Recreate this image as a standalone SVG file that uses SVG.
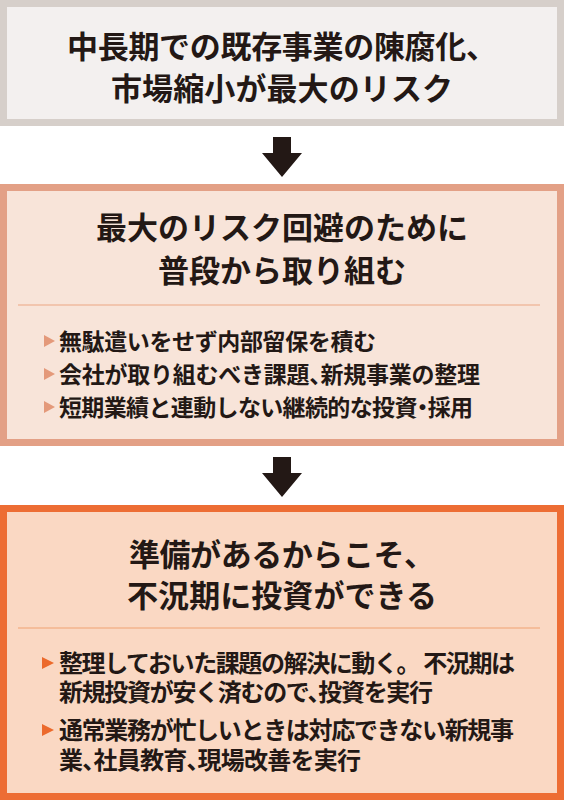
<svg xmlns="http://www.w3.org/2000/svg" width="564" height="800" viewBox="0 0 564 800">
<style>
text{font-family:"Noto Sans CJK JP","Noto Sans CJK SC",sans-serif;fill:#231815;font-weight:bold}
.t{font-size:31px;text-anchor:middle}
.b{font-size:23px}
.c{font-size:24px}
.h{font-feature-settings:"halt"}
.sep2{stroke:#eba584;stroke-width:1.2}
.sep3{stroke:#f0a272;stroke-width:1.2}
.bul2{fill:#e4997a}
.bul3{fill:#ec6a2c}
.arrow{fill:#231815}
</style>
<g id="box1">
<rect x="3.5" y="3.5" width="557" height="119" fill="#f3f0ef" stroke="#d6cfca" stroke-width="7"/>
<text class="t" x="282" y="58" textLength="430" lengthAdjust="spacing">中長期での既存事業の陳腐化、</text>
<text class="t" x="282" y="100" textLength="342" lengthAdjust="spacing">市場縮小が最大のリスク</text>
</g>
<g id="box2">
<rect x="3.5" y="187.5" width="557" height="255" fill="#f8e4d9" stroke="#e3a086" stroke-width="7"/>
<text class="t" x="282" y="239" textLength="372" lengthAdjust="spacing">最大のリスク回避のために</text>
<text class="t" x="282" y="282" textLength="248" lengthAdjust="spacing">普段から取り組む</text>
<line class="sep2" x1="18" y1="305" x2="540" y2="305"/>
<polygon class="bul2" points="44,335 55,341 44,347"/>
<text class="b" x="59" y="350" textLength="317" lengthAdjust="spacing">無駄遣いをせず内部留保を積む</text>
<polygon class="bul2" points="44,368 55,374 44,380"/>
<text class="b h" x="59" y="383" textLength="421" lengthAdjust="spacing">会社が取り組むべき課題、新規事業の整理</text>
<polygon class="bul2" points="44,401 55,407 44,413"/>
<text class="b h" x="59" y="416" textLength="414" lengthAdjust="spacing">短期業績と連動しない継続的な投資・採用</text>
</g>
<g id="box3">
<rect x="3.5" y="508.5" width="557" height="288" fill="#fad8c3" stroke="#ed6d34" stroke-width="7"/>
<text class="t" x="282" y="566" textLength="306" lengthAdjust="spacing">準備があるからこそ、</text>
<text class="t" x="282" y="607" textLength="310" lengthAdjust="spacing">不況期に投資ができる</text>
<line class="sep3" x1="18" y1="628" x2="540" y2="628"/>
<polygon class="bul3" points="42,657 54,663 42,669"/>
<text class="c" x="59" y="672" textLength="456" lengthAdjust="spacing">整理しておいた課題の解決に動く。 不況期は</text>
<text class="c h" x="59" y="701" textLength="374" lengthAdjust="spacing">新規投資が安く済むので、投資を実行</text>
<polygon class="bul3" points="42,724 54,730 42,736"/>
<text class="c" x="59" y="739" textLength="455" lengthAdjust="spacing">通常業務が忙しいときは対応できない新規事</text>
<text class="c h" x="59" y="769" textLength="302" lengthAdjust="spacing">業、社員教育、現場改善を実行</text>
</g>
<g id="connectors">
<polygon class="arrow" points="273,137 291,137 291,153 302,153 282,177 262,153 273,153"/>
<polygon class="arrow" points="273,457 291,457 291,473 302,473 282,497 262,473 273,473"/>
</g>
</svg>
